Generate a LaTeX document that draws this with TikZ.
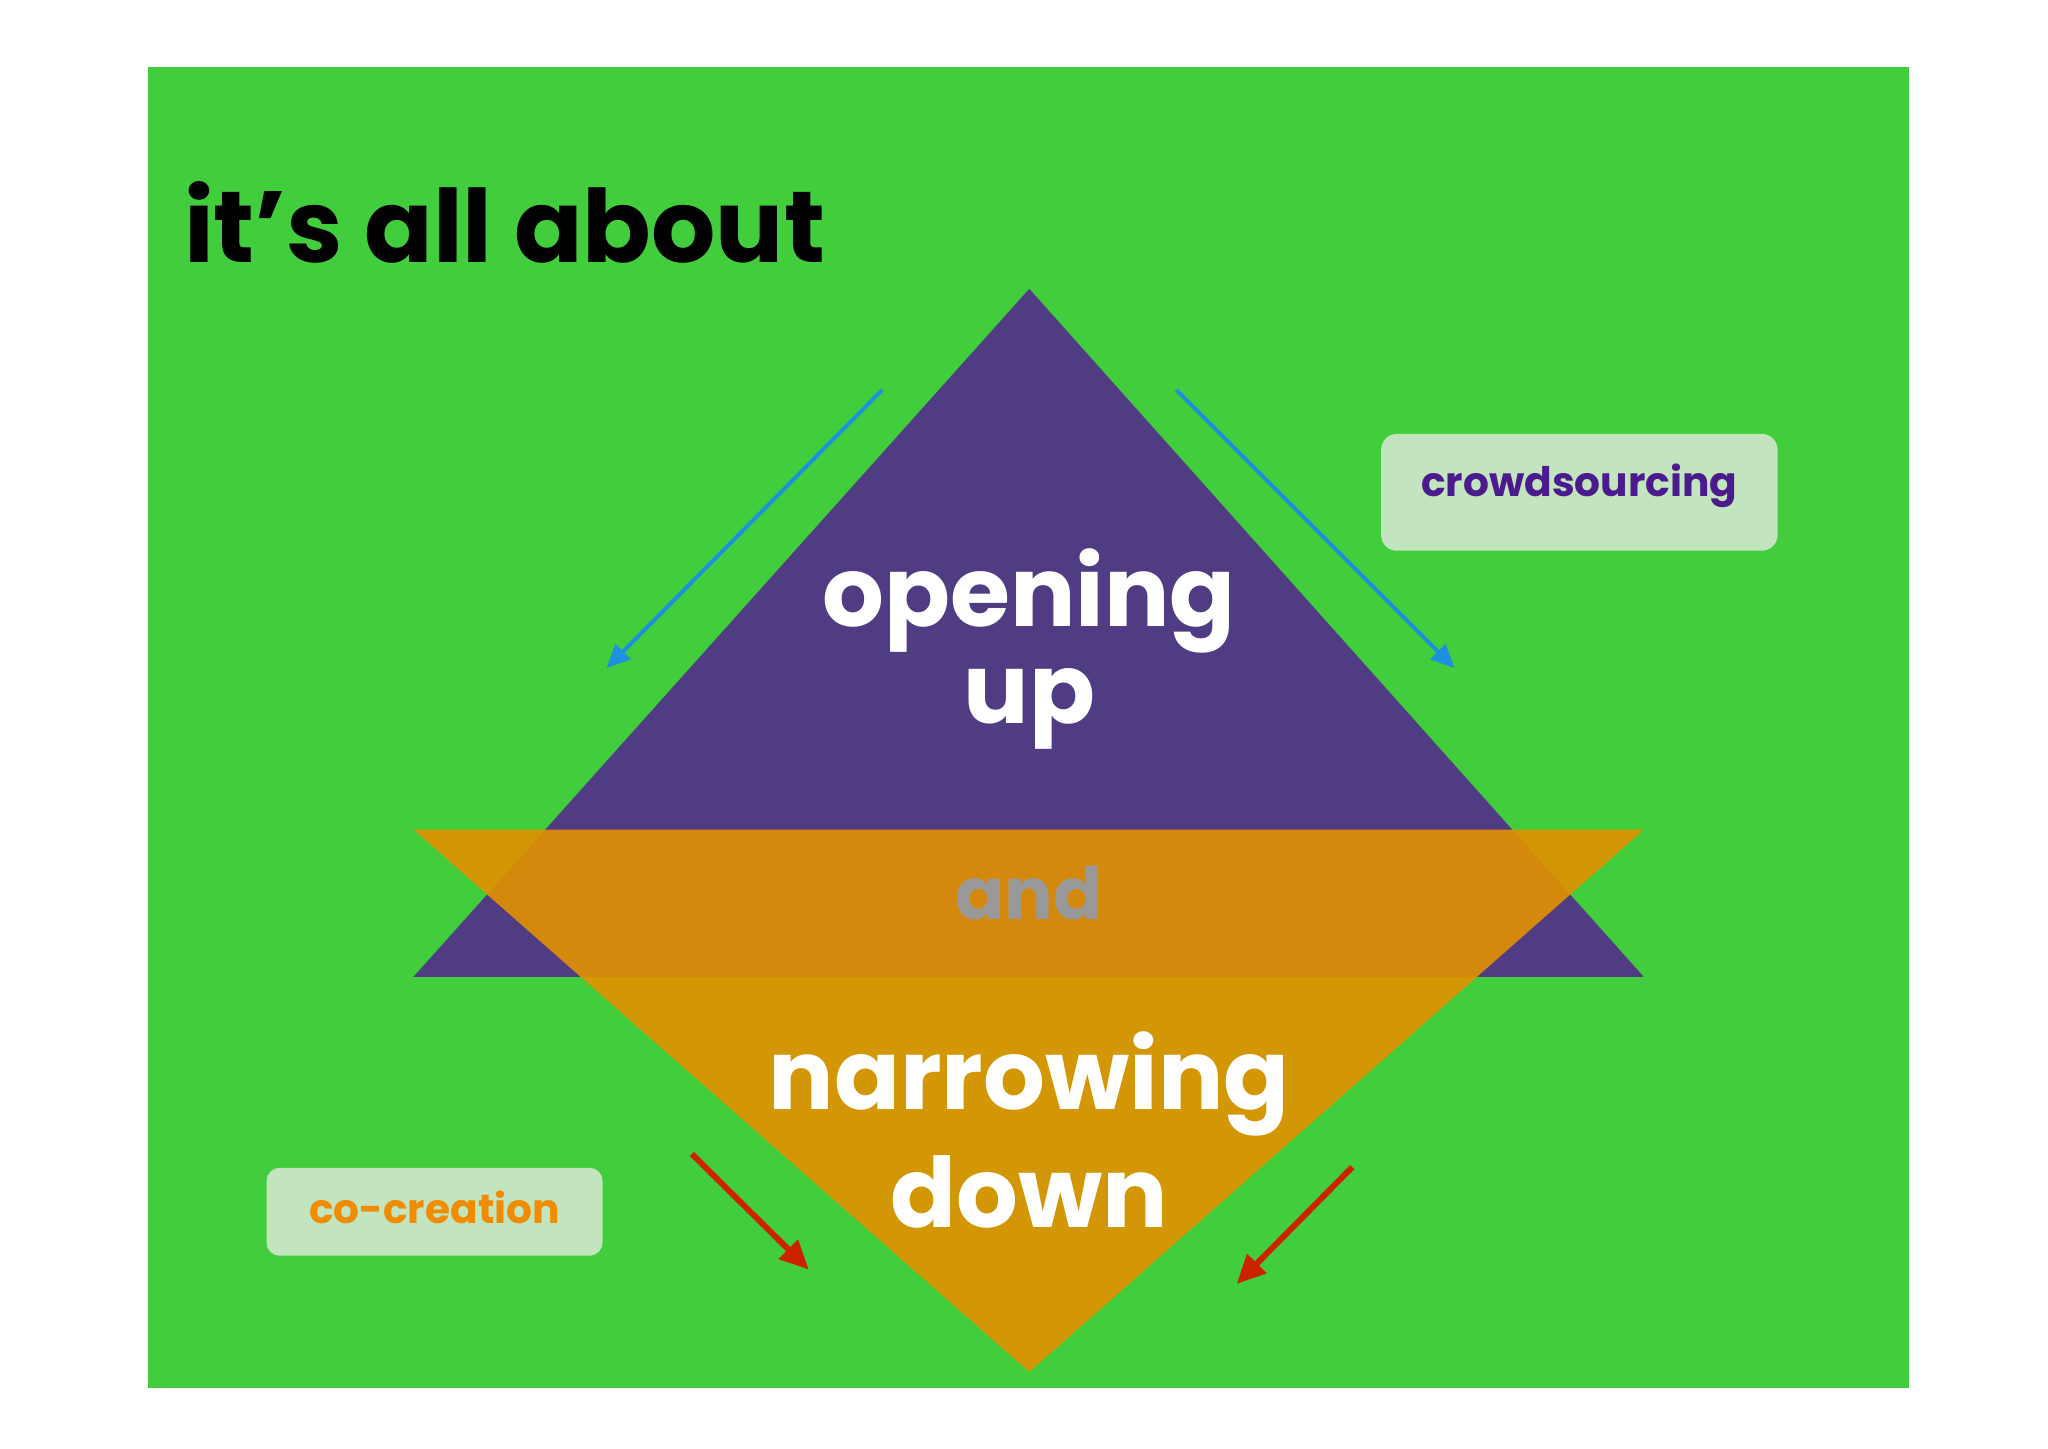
\documentclass[tikz,border=0pt]{standalone}
\usepackage{fontspec}
\setmainfont{Poppins}
\definecolor{bg}{HTML}{42CE3C}
\definecolor{purp}{HTML}{503C82}
\definecolor{orng}{HTML}{E39200}
\definecolor{boxf}{HTML}{C2E5C0}
\definecolor{ptext}{HTML}{4B1A8C}
\definecolor{otext}{HTML}{F08C00}
\definecolor{blu}{HTML}{1E90E0}
\definecolor{rd}{HTML}{CC2200}
\usetikzlibrary{arrows.meta}
\begin{document}
\begin{tikzpicture}[x=1pt,y=-1pt,
  big/.style={text=white,font=\fontsize{74}{74}\selectfont\bfseries},
  tag/.style={fill=boxf,rounded corners=12pt,inner sep=0pt},
  barrow/.style={blu,line width=3pt,-{Triangle[length=18pt,width=16pt]}},
  rarrow/.style={rd,line width=4.5pt,-{Triangle[length=22pt,width=20pt]}}]
\useasboundingbox (0,0) rectangle (1560,1103);
\fill[white] (0,0) rectangle (1560,1103);
\fill[bg] (113,51) rectangle (1454,1057);
\node[anchor=base west,inner sep=0pt,font=\fontsize{77}{77}\selectfont\bfseries] (title) at (140,200) {it’s all about};
\fill[purp] (784,220) -- (1252,744) -- (315,744) -- cycle;
\fill[orng,opacity=0.9] (315,632) -- (1252,632) -- (784,1045) -- cycle;
\node[big] (op) at (784,458) {opening};
\node[big] (up) at (784,540) {up};
\node[text=gray!80,font=\fontsize{55}{55}\selectfont\bfseries] (and) at (784,680) {and};
\node[big] (nar) at (784,826) {narrowing};
\node[big] (down) at (784,908) {down};
\coordinate (b1s) at (672,297); \coordinate (b1e) at (462,509);
\coordinate (b2s) at (896,297); \coordinate (b2e) at (1108,509);
\coordinate (r1s) at (527,879); \coordinate (r1e) at (616,967);
\coordinate (r2s) at (1030,889); \coordinate (r2e) at (942,978);
\draw[barrow] (b1s) -- (b1e);
\draw[barrow] (b2s) -- (b2e);
\draw[rarrow] (r1s) -- (r1e);
\draw[rarrow] (r2s) -- (r2e);
\node[tag,minimum width=302pt,minimum height=89pt] (cs) at (1203,375) {};
\node[text=ptext,font=\fontsize{31}{31}\selectfont\bfseries] at (1203,370) {crowdsourcing};
\node[tag,minimum width=256pt,minimum height=67pt,rounded corners=10pt] (cc) at (331,923) {};
\node[text=otext,font=\fontsize{31}{31}\selectfont\bfseries] at (331,920) {co-creation};
\end{tikzpicture}
\end{document}
